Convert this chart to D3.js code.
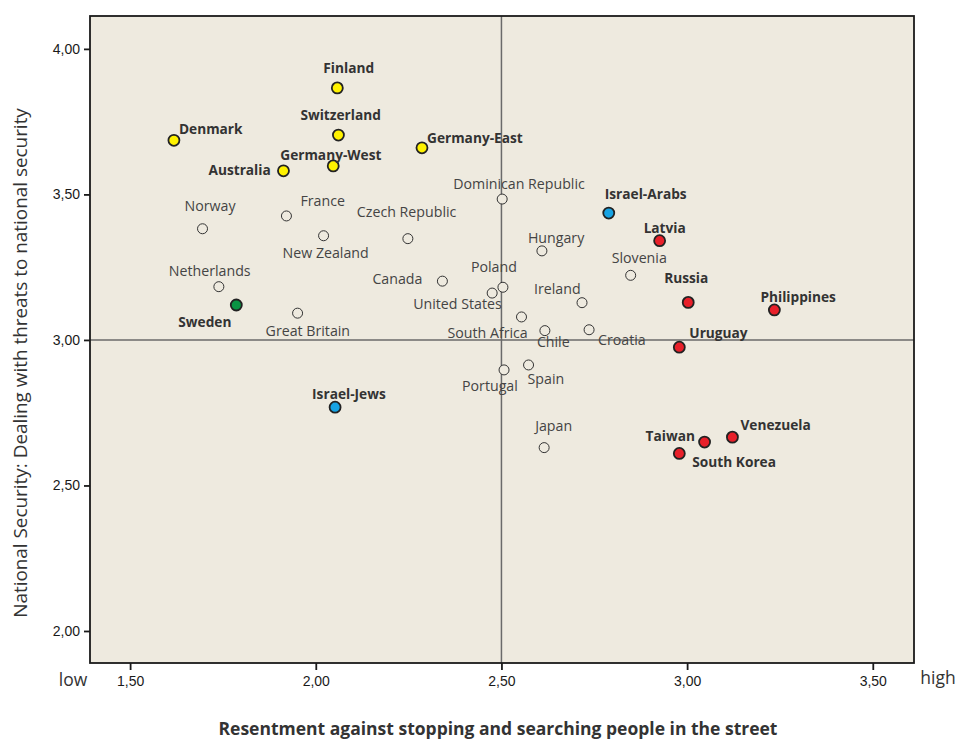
<!DOCTYPE html>
<html><head><meta charset="utf-8">
<script src="https://cdn.jsdelivr.net/npm/d3@7"></script>
<style>
body{margin:0;background:#fff;}
svg{display:block;}
</style></head>
<body><svg id="chart" width="957" height="740"></svg>
<script>
// ---- data ----
const countries = ["Finland","Switzerland","Denmark","Germany-East","Germany-West","Australia","France","Norway","New Zealand","Czech Republic","Netherlands","Sweden","Great Britain","Canada","Dominican Republic","Poland","United States","Ireland","South Africa","Chile","Croatia","Portugal","Spain","Japan","Hungary","Slovenia","Israel-Arabs","Latvia","Russia","Philippines","Uruguay","Taiwan","South Korea","Venezuela","Israel-Jews"];
const resentment = [2.058,2.061,1.618,2.286,2.047,1.913,1.921,1.695,2.021,2.248,1.739,1.786,1.951,2.341,2.502,2.504,2.475,2.717,2.554,2.617,2.736,2.507,2.573,2.615,2.609,2.848,2.789,2.926,3.003,3.235,2.979,3.047,2.979,3.122,2.052];
const security = [3.866,3.704,3.686,3.660,3.598,3.581,3.426,3.382,3.358,3.348,3.183,3.120,3.092,3.202,3.484,3.181,3.161,3.128,3.079,3.032,3.035,2.897,2.914,2.630,3.306,3.222,3.436,3.341,3.129,3.103,2.975,2.649,2.610,2.666,2.769];
const group = ["yellow","yellow","yellow","yellow","yellow","yellow","none","none","none","none","none","green","none","none","none","none","none","none","none","none","none","none","none","none","none","none","blue","red","red","red","red","red","red","red","blue"];
const xTicks = [1.5,2.0,2.5,3.0,3.5];
const yTicks = [2.0,2.5,3.0,3.5,4.0];
const xRef = 2.5, yRef = 3.0;
const xTitle = "Resentment against stopping and searching people in the street";
const yTitle = "National Security: Dealing with threats to national security";

// ---- layout (label offsets in px, relative to the dot) ----
const labelOffsets = {
 "Finland":[-14,-15],"Switzerland":[-38,-15],"Denmark":[5,-6],"Germany-East":[5,-5],"Germany-West":[-53,-6],
 "Australia":[-75,4],"France":[14,-10],"Norway":[-18,-18],"New Zealand":[-41,22],"Czech Republic":[-51,-22],
 "Netherlands":[-50,-11],"Sweden":[-58,22],"Great Britain":[-32,23],"Canada":[-70,3],"Dominican Republic":[-49,-10],
 "Poland":[-32,-15],"United States":[-79,16],"Ireland":[-48,-9],"South Africa":[-74,21],"Chile":[-8,16],
 "Croatia":[9,15],"Portugal":[-42,21],"Spain":[-1,19],"Japan":[-9,-17],"Hungary":[-14,-8],"Slovenia":[-19,-12],
 "Israel-Arabs":[-4,-14],"Latvia":[-16,-8],"Russia":[-24,-19],"Philippines":[-14,-8],"Uruguay":[10,-9],
 "Taiwan":[-59,-1],"South Korea":[13,14],"Venezuela":[8,-7],"Israel-Jews":[-23,-8]
};
const fillColor = {yellow:"#fff200",red:"#e8202a",blue:"#17a3e3",green:"#0a9443",none:"#eeeadf"};

const svg = d3.select("#chart");
const L=90, R=914, T=16, B=663;
const x = d3.scaleLinear().domain([1.392,3.611]).range([L,R]);
const y = d3.scaleLinear().domain([1.890,4.113]).range([B,T]);

svg.append("rect").attr("x",L).attr("y",T).attr("width",R-L).attr("height",B-T)
  .attr("fill","#eeeadf");

// reference lines
svg.append("line").attr("x1",x(xRef)).attr("x2",x(xRef)).attr("y1",T).attr("y2",B)
  .attr("stroke","#6a6a6a").attr("stroke-width",1.5);
svg.append("line").attr("x1",L).attr("x2",R).attr("y1",y(yRef)).attr("y2",y(yRef))
  .attr("stroke","#6a6a6a").attr("stroke-width",1.5);

svg.append("rect").attr("x",L).attr("y",T).attr("width",R-L).attr("height",B-T)
  .attr("fill","none").attr("stroke","#1a1a1a").attr("stroke-width",1.8);

const fmt = d => d3.format(".2f")(d).replace(".",",");
const xAxis = svg.append("g").attr("transform",`translate(0,${B})`)
  .call(d3.axisBottom(x).tickValues(xTicks).tickFormat(fmt).tickSize(7).tickPadding(6));
const yAxis = svg.append("g").attr("transform",`translate(${L},0)`)
  .call(d3.axisLeft(y).tickValues(yTicks).tickFormat(fmt).tickSize(6).tickPadding(4));
[xAxis,yAxis].forEach(a=>{
  a.select(".domain").remove();
  a.selectAll(".tick line").attr("stroke","#1a1a1a").attr("stroke-width",1.8);
  a.selectAll(".tick text").attr("fill","#1a1a1a").style("font-family","Liberation Sans, Arial, sans-serif").style("font-size","14px");
});

svg.append("text").attr("x",73).attr("y",686).attr("text-anchor","middle")
  .style("font-family","Open Sans, sans-serif").style("font-size","17.5px").attr("fill","#333").text("low");
svg.append("text").attr("x",938).attr("y",684).attr("text-anchor","middle")
  .style("font-family","Open Sans, sans-serif").style("font-size","17.5px").attr("fill","#333").text("high");

svg.append("text").attr("x",498).attr("y",735).attr("text-anchor","middle")
  .style("font-family","Open Sans, sans-serif").style("font-size","17.5px").style("font-weight","bold")
  .attr("fill","#333").text(xTitle);
svg.append("text").attr("transform","translate(27,363) rotate(-90)").attr("text-anchor","middle")
  .style("font-family","Open Sans, sans-serif").style("font-size","18.9px")
  .attr("fill","#333").text(yTitle);

const data = countries.map((c,i)=>({name:c,x:resentment[i],y:security[i],g:group[i]}));

const pts = svg.append("g");
pts.selectAll("circle").data(data).join("circle")
  .attr("cx",d=>x(d.x)).attr("cy",d=>y(d.y))
  .attr("r",d=>d.g==="none"?5:5.5)
  .attr("fill",d=>fillColor[d.g])
  .attr("stroke",d=>d.g==="none"?"#333":"#222")
  .attr("stroke-width",d=>d.g==="none"?1:1.8);

pts.selectAll("text").data(data).join("text")
  .attr("x",d=>x(d.x)+labelOffsets[d.name][0])
  .attr("y",d=>y(d.y)+labelOffsets[d.name][1])
  .style("font-family","Open Sans, sans-serif")
  .style("font-size",d=>d.g==="none"?"14.2px":"13.7px")
  .style("font-weight",d=>d.g==="none"?"normal":"bold")
  .attr("fill",d=>d.g==="none"?"#444":"#333")
  .text(d=>d.name);
</script></body></html>
